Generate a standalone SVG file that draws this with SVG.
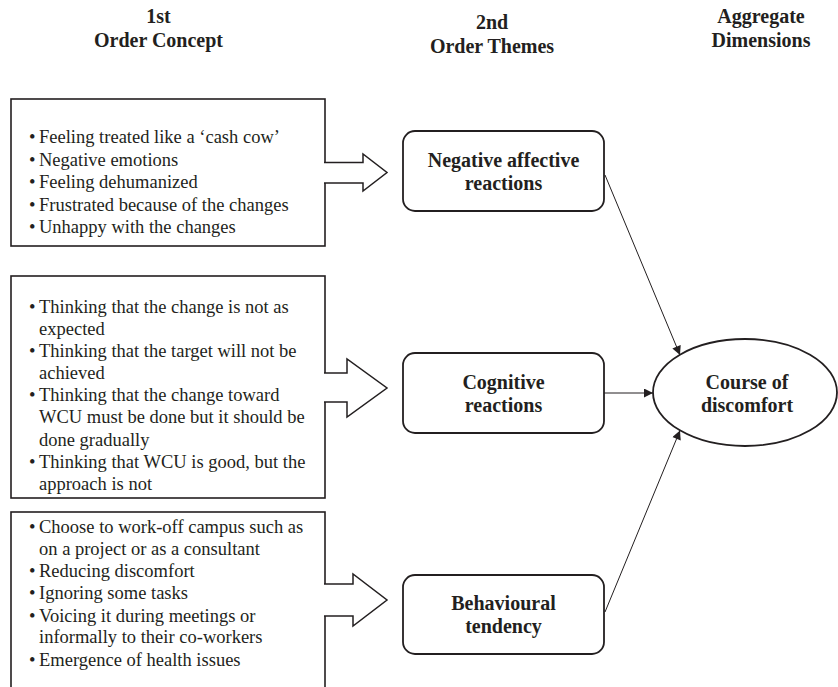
<svg xmlns="http://www.w3.org/2000/svg" width="838" height="687" viewBox="0 0 838 687">
<style>
text{font-family:"Liberation Serif","Times New Roman",serif;fill:#231f20}
.h{font-size:20px;font-weight:bold;text-anchor:middle}
.t{font-size:18.5px}
.n{font-size:20px;font-weight:bold;text-anchor:middle}
.box{fill:#fff;stroke:#231f20;stroke-width:1.6}
.rbox{fill:#fff;stroke:#231f20;stroke-width:1.8}
.blk{fill:#fff;stroke:#231f20;stroke-width:1.5;stroke-linejoin:miter}
.con{fill:none;stroke:#231f20;stroke-width:1}
</style>
<defs>
<marker id="ah" viewBox="0 0 10 10" refX="10" refY="5" markerWidth="10" markerHeight="9" markerUnits="userSpaceOnUse" orient="auto">
<path d="M0,0 L10,5 L0,10 Z" fill="#231f20"/>
</marker>
</defs>
<rect width="838" height="687" fill="#fff"/>
<g id="headers">
<text class="h" x="158.5" y="23">1st</text>
<text class="h" x="158.5" y="47">Order Concept</text>
<text class="h" x="492" y="29">2nd</text>
<text class="h" x="492" y="53">Order Themes</text>
<text class="h" x="761" y="23">Aggregate</text>
<text class="h" x="761" y="47">Dimensions</text>
</g>
<g id="concept1">
<rect class="box" x="11" y="99" width="314" height="147"/>
<path class="blk" d="M324,162.5 H363 V154 L387,172.5 L363,191 V183 H324"/>
<text class="t" x="29" y="143">•</text><text class="t" x="39" y="143">Feeling treated like a ‘cash cow’</text>
<text class="t" x="29" y="166">•</text><text class="t" x="39" y="166">Negative emotions</text>
<text class="t" x="29" y="188">•</text><text class="t" x="39" y="188">Feeling dehumanized</text>
<text class="t" x="29" y="211">•</text><text class="t" x="39" y="211">Frustrated because of the changes</text>
<text class="t" x="29" y="233">•</text><text class="t" x="39" y="233">Unhappy with the changes</text>
</g>
<g id="concept2">
<rect class="box" x="11" y="276" width="314" height="222"/>
<path class="blk" d="M324,373 H347 V359 L387,388 L347,417 V402 H324"/>
<text class="t" x="29" y="313">•</text><text class="t" x="39" y="313">Thinking that the change is not as</text>
<text class="t" x="39" y="335">expected</text>
<text class="t" x="29" y="357">•</text><text class="t" x="39" y="357">Thinking that the target will not be</text>
<text class="t" x="39" y="379">achieved</text>
<text class="t" x="29" y="401">•</text><text class="t" x="39" y="401">Thinking that the change toward</text>
<text class="t" x="39" y="423">WCU must be done but it should be</text>
<text class="t" x="39" y="446">done gradually</text>
<text class="t" x="29" y="468">•</text><text class="t" x="39" y="468">Thinking that WCU is good, but the</text>
<text class="t" x="39" y="490">approach is not</text>
</g>
<g id="concept3">
<rect class="box" x="11" y="512" width="314" height="190"/>
<path class="blk" d="M324,584 H353 V574 L387,600 L353,626 V616 H324"/>
<text class="t" x="29" y="533">•</text><text class="t" x="39" y="533">Choose to work-off campus such as</text>
<text class="t" x="39" y="555">on a project or as a consultant</text>
<text class="t" x="29" y="577">•</text><text class="t" x="39" y="577">Reducing discomfort</text>
<text class="t" x="29" y="599">•</text><text class="t" x="39" y="599">Ignoring some tasks</text>
<text class="t" x="29" y="622">•</text><text class="t" x="39" y="622">Voicing it during meetings or</text>
<text class="t" x="39" y="643">informally to their co-workers</text>
<text class="t" x="29" y="666">•</text><text class="t" x="39" y="666">Emergence of health issues</text>
</g>
<g id="theme-negative">
<rect class="rbox" x="403" y="131" width="201" height="80" rx="12"/>
<text class="n" x="503.5" y="166.5">Negative affective</text>
<text class="n" x="503.5" y="190">reactions</text>
</g>
<g id="theme-cognitive">
<rect class="rbox" x="403" y="353" width="201" height="80" rx="12"/>
<text class="n" x="503.5" y="388.5">Cognitive</text>
<text class="n" x="503.5" y="412">reactions</text>
</g>
<g id="theme-behavioural">
<rect class="rbox" x="403" y="575" width="201" height="79" rx="12"/>
<text class="n" x="503.5" y="610">Behavioural</text>
<text class="n" x="503.5" y="633">tendency</text>
</g>
<g id="dimension">
<ellipse class="rbox" cx="745" cy="392.5" rx="92" ry="53.5"/>
<text class="n" x="747" y="388.5">Course of</text>
<text class="n" x="747" y="412">discomfort</text>
</g>
<g id="connectors">
<line class="con" x1="605" y1="175" x2="680" y2="355" marker-end="url(#ah)"/>
<line class="con" x1="604" y1="393" x2="653" y2="393" marker-end="url(#ah)"/>
<line class="con" x1="605" y1="612" x2="680" y2="430.5" marker-end="url(#ah)"/>
</g>
</svg>
